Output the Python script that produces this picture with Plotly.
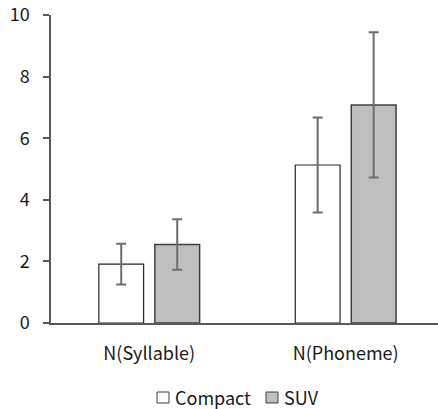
import plotly.graph_objects as go

categories = ["N(Syllable)", "N(Phoneme)"]
compact_vals = [1.91, 5.13]
compact_err = [0.66, 1.54]
suv_vals = [2.55, 7.08]
suv_err = [0.82, 2.36]
y_ticks = [0, 2, 4, 6, 8, 10]
series_names = ["Compact", "SUV"]
series_colors = ["white", "#bfbfbf"]

FONT = "Noto Sans CJK JP"
AX = "#595959"
L, R, T, B, W, H = 51, 0, 15, 86, 438, 409
PW, PH = W - L - R, H - T - B


def px_x(p):
    return (p - L) / PW


def px_y(p):
    return (H - B - p) / PH


fig = go.Figure()
fig.add_trace(go.Bar(
    name=series_names[0], x=categories, y=compact_vals,
    marker=dict(color=series_colors[0], line=dict(color="#262626", width=1.2)),
    error_y=dict(type="data", array=compact_err, color="#6e6e6e", thickness=2, width=5),
))
fig.add_trace(go.Bar(
    name=series_names[1], x=categories, y=suv_vals,
    marker=dict(color=series_colors[1], line=dict(color="#404040", width=1.5)),
    error_y=dict(type="data", array=suv_err, color="#6e6e6e", thickness=2, width=5),
))

# custom legend
box_x = [157, 266]
text_x = [173, 282]
for bx, tx, nm, col in zip(box_x, text_x, series_names, series_colors):
    fig.add_shape(type="rect", xref="paper", yref="paper",
                  x0=px_x(bx), x1=px_x(bx + 12), y0=px_y(392), y1=px_y(403),
                  fillcolor=col, line=dict(color="#404040", width=1))
    fig.add_annotation(xref="paper", yref="paper", x=px_x(tx), y=px_y(397),
                       xanchor="left", yanchor="middle", text=nm, showarrow=False,
                       font=dict(family=FONT, size=18, color="#1a1a1a"))

fig.update_layout(
    width=W, height=H,
    margin=dict(l=L, r=R, t=T, b=B, autoexpand=False),
    paper_bgcolor="white", plot_bgcolor="white",
    font=dict(family=FONT, size=18, color="#1a1a1a"),
    barmode="group", bargap=0.43, bargroupgap=0.2,
    showlegend=False,
)
fig.update_xaxes(
    range=[-0.5, 1.47], showline=True, linecolor=AX, linewidth=1.5,
    ticks="", showgrid=False, tickfont=dict(size=18), automargin=False,
    ticklabelstandoff=14,
)
fig.update_yaxes(
    range=[0, 10], tickvals=y_ticks, showline=True, linecolor=AX, linewidth=1.5,
    ticks="outside", ticklen=6, tickcolor=AX, tickwidth=1.5, showgrid=False,
    zeroline=False, tickfont=dict(size=18), automargin=False, ticklabelstandoff=10,
)

fig.write_html("out.html", config={"displayModeBar": False},
               post_script="document.body.style.margin='0';")
